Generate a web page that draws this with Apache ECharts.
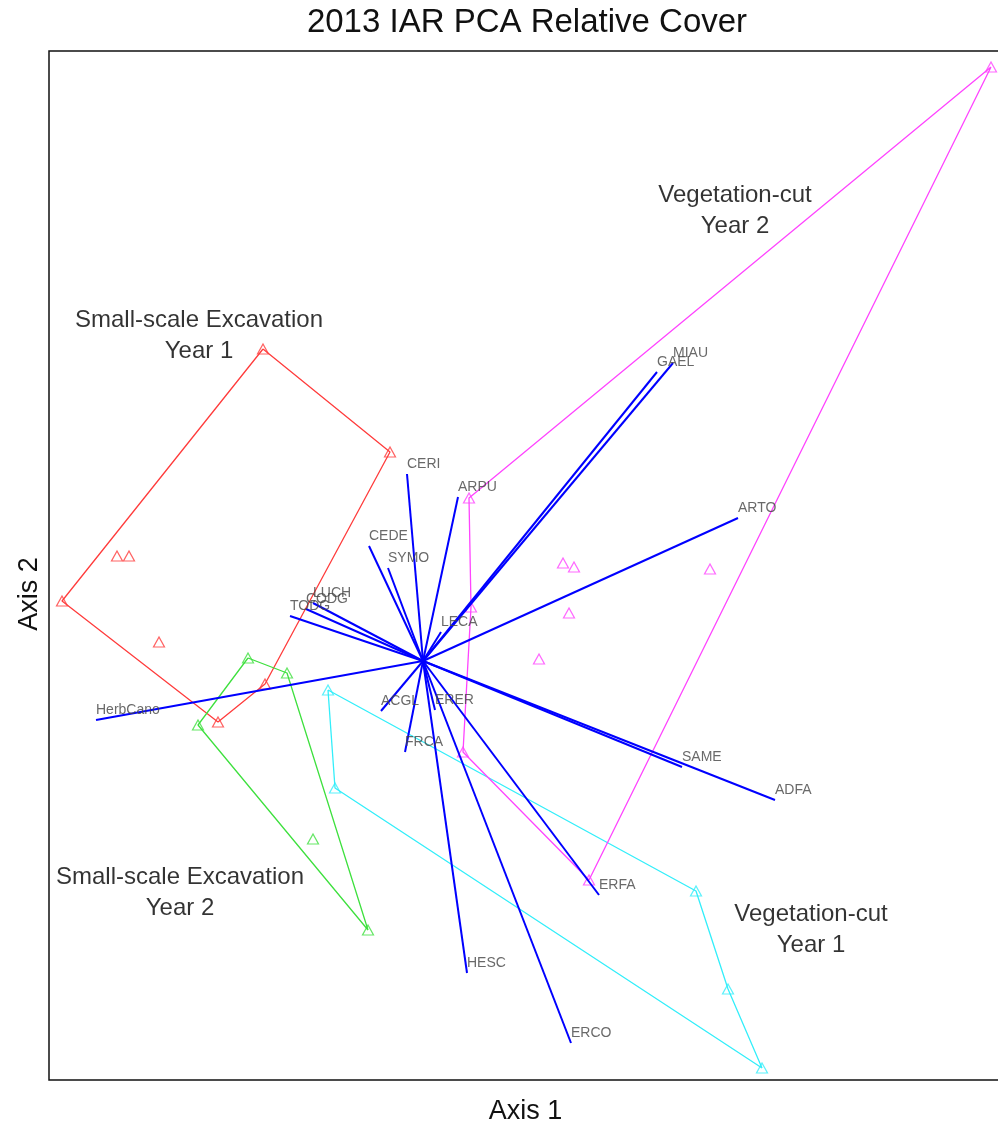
<!DOCTYPE html>
<html>
<head>
<meta charset="utf-8">
<title>2013 IAR PCA Relative Cover</title>
<script src="https://cdn.jsdelivr.net/npm/echarts@6.0.0/dist/echarts.min.js"></script>
<style>
  html, body { margin: 0; padding: 0; background: #fff; }
  #pcaBox { width: 998px; height: 1126px; }
</style>
</head>
<body>
<div id="pcaBox"></div>
<script>
// species loadings (arrow tips), axis 1 / axis 2
const speciesNames = ['CERI', 'ARPU', 'CEDE', 'SYMO', 'LUCH', 'TODG', 'CODG', 'LECA', 'GAEL', 'MIAU',
  'ARTO', 'SAME', 'ADFA', 'ERFA', 'ERCO', 'HESC', 'FRCA', 'ERER', 'ACGL', 'HerbCano']
const speciesAxis1 = [-0.16, 0.35, -0.54, -0.35, -1.10, -1.33, -1.17, 0.18, 2.34, 2.50,
  3.15, 2.59, 3.52, 1.76, 1.48, 0.44, -0.18, 0.12, -0.42, -3.27]
const speciesAxis2 = [1.87, 1.64, 1.15, 0.93, 0.58, 0.45, 0.52, 0.29, 2.89, 2.98,
  1.43, -1.06, -1.39, -2.34, -3.82, -3.12, -0.91, -0.49, -0.50, -0.59]

// site scores per treatment group
const excavYear1 = [[-1.60, 3.12], [-0.33, 2.09], [-1.58, -0.23], [-2.05, -0.61], [-3.61, 0.60],
  [-3.06, 1.05], [-2.94, 1.05], [-2.64, 0.19]]
const excavYear2 = [[-1.75, 0.03], [-1.36, -0.12], [-0.55, -2.69], [-2.25, -0.64], [-1.10, -1.78]]
const vegcutYear1 = [[-0.95, -0.29], [2.73, -2.30], [3.05, -3.28], [3.39, -4.07], [-0.88, -1.27]]
const vegcutYear2 = [[5.68, 5.94], [0.46, 1.63], [0.48, 0.54], [0.40, -0.91], [1.66, -2.19],
  [1.40, 0.98], [1.51, 0.94], [2.87, 0.92], [1.46, 0.48], [1.16, 0.02]]

// hull vertex order (index into the site list)
const excavYear1Hull = [0, 1, 2, 3, 4, 0]
const excavYear2Hull = [0, 1, 2, 3, 0]
const vegcutYear1Hull = [0, 1, 2, 3, 4, 0]
const vegcutYear2Hull = [0, 1, 2, 3, 4, 0]

const groupNames = ['Small-scale Excavation\nYear 1', 'Small-scale Excavation\nYear 2',
  'Vegetation-cut\nYear 1', 'Vegetation-cut\nYear 2']
const groupLabelAxis1 = [-2.24, -2.43, 3.88, 3.12]
const groupLabelAxis2 = [3.25, -2.32, -2.69, 4.50]

const FONT = 'Liberation Sans, Arial, Helvetica, sans-serif'

const groups = [
  { sites: excavYear1, hull: excavYear1Hull, color: '#ff3c3c' },
  { sites: excavYear2, hull: excavYear2Hull, color: '#3ee03e' },
  { sites: vegcutYear1, hull: vegcutYear1Hull, color: '#33eefa' },
  { sites: vegcutYear2, hull: vegcutYear2Hull, color: '#ff44ff' }
]

const chart = echarts.init(document.getElementById('pcaBox'), null, { renderer: 'canvas' })

const series = []

groups.forEach((g) => {
  // hull outline
  series.push({
    type: 'line',
    data: g.hull.map(i => g.sites[i]),
    symbol: 'none',
    silent: true,
    animation: false,
    lineStyle: { color: g.color, width: 1.3 },
    z: 2
  })
  // open triangles for sites
  series.push({
    type: 'scatter',
    data: g.sites,
    symbol: 'triangle',
    symbolSize: [11, 10],
    silent: true,
    animation: false,
    itemStyle: { color: 'rgba(0,0,0,0)', borderColor: g.color, borderWidth: 1.2 },
    z: 3
  })
})

// species arrows from origin
series.push({
  type: 'lines',
  coordinateSystem: 'cartesian2d',
  silent: true,
  animation: false,
  lineStyle: { color: '#0000ff', width: 2, opacity: 1 },
  data: speciesNames.map((n, i) => ({ coords: [[0, 0], [speciesAxis1[i], speciesAxis2[i]]] })),
  z: 4
})

// species labels at the tips
series.push({
  type: 'scatter',
  symbolSize: 0,
  silent: true,
  animation: false,
  data: speciesNames.map((n, i) => ({ name: n, value: [speciesAxis1[i], speciesAxis2[i]] })),
  label: {
    show: true,
    position: 'right',
    distance: 0,
    offset: [0, -10],
    formatter: '{b}',
    color: '#444',
    fontSize: 14,
    fontFamily: FONT
  },
  z: 5
})

// treatment group captions
series.push({
  type: 'scatter',
  symbolSize: 0,
  silent: true,
  animation: false,
  data: groupNames.map((n, i) => ({ name: n, value: [groupLabelAxis1[i], groupLabelAxis2[i]] })),
  label: {
    show: true,
    position: 'inside',
    formatter: '{b}',
    align: 'center',
    verticalAlign: 'middle',
    color: '#000',
    fontSize: 24,
    lineHeight: 31,
    fontFamily: FONT
  },
  z: 5
})

const option = {
  backgroundColor: '#fff',
  animation: false,
  grid: {
    left: 49,
    top: 51,
    right: -4,
    bottom: 46,
    outerBoundsMode: 'none',
    containLabel: false,
    show: true,
    borderColor: '#111',
    borderWidth: 1.5
  },
  xAxis: {
    type: 'value',
    min: -3.74,
    max: 5.79,
    name: 'Axis 1',
    nameLocation: 'middle',
    nameGap: 18,
    nameTextStyle: { fontSize: 27, color: '#111', fontFamily: FONT },
    axisLine: { show: false },
    axisTick: { show: false },
    axisLabel: { show: false },
    splitLine: { show: false }
  },
  yAxis: {
    type: 'value',
    min: -4.19,
    max: 6.10,
    axisLine: { show: false },
    axisTick: { show: false },
    axisLabel: { show: false },
    splitLine: { show: false }
  },
  graphic: [
    {
      type: 'text',
      x: 527,
      y: 23,
      style: {
        text: '2013 IAR PCA Relative Cover',
        fontSize: 33,
        fontFamily: FONT,
        fill: '#111',
        align: 'center',
        verticalAlign: 'middle'
      }
    },
    {
      type: 'text',
      x: 30,
      y: 594,
      rotation: Math.PI / 2,
      style: {
        text: 'Axis 2',
        fontSize: 27,
        fontFamily: FONT,
        fill: '#111',
        align: 'center',
        verticalAlign: 'middle'
      }
    }
  ],
  series: series
}

chart.setOption(option)
</script>
</body>
</html>
